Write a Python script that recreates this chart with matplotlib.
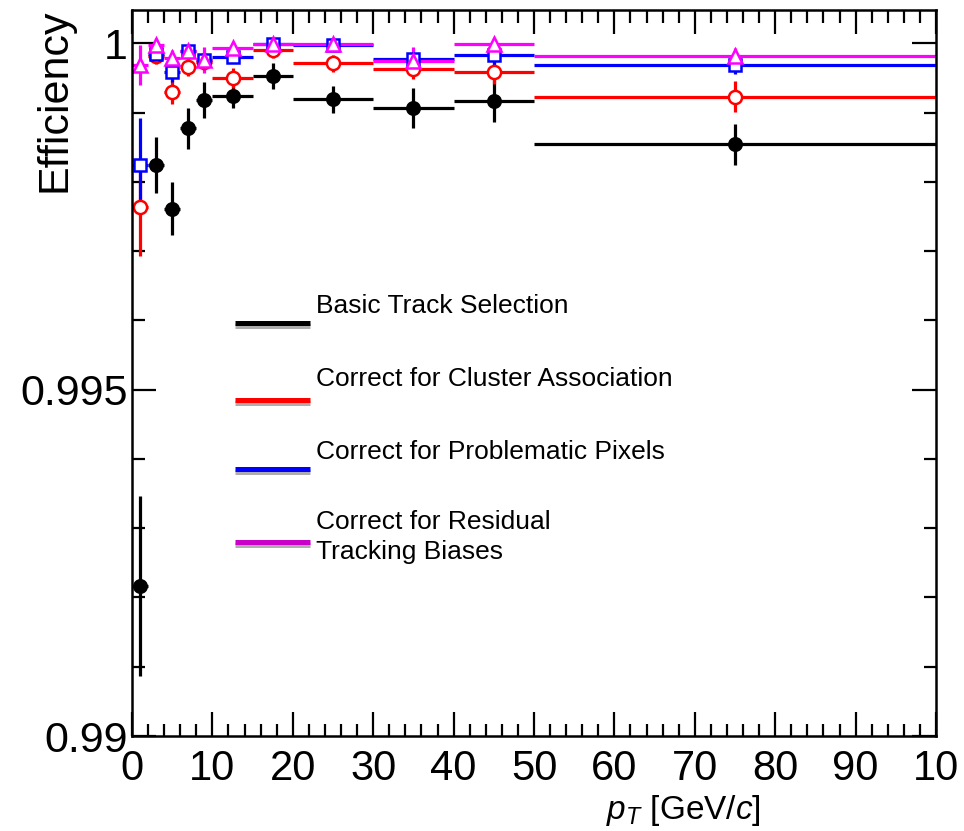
import matplotlib
matplotlib.use('Agg')
import matplotlib.pyplot as plt
import matplotlib.patheffects as pe
from matplotlib.ticker import MultipleLocator, FixedLocator

# ===== DATA

bin_lo = [0, 2, 4, 6, 8, 10, 15, 20, 30, 40, 50]
bin_hi = [2, 4, 6, 8, 10, 15, 20, 30, 40, 50, 100]

eff_basic = [0.99216, 0.99824, 0.99761, 0.99877, 0.99918, 0.99924,
             0.99953, 0.99919, 0.99906, 0.99917, 0.99854]
err_basic = [0.0013, 0.0004, 0.00038, 0.0003, 0.00026, 0.00017,
             0.00019, 0.0002, 0.00029, 0.0003, 0.0003]

eff_cluster = [0.99763, 0.99981, 0.99930, 0.99966, 0.99973, 0.99950,
               0.99990, 0.99971, 0.99963, 0.99958, 0.99923]
err_cluster = [0.0007, 0.00011, 0.00018, 0.00013, 0.00012, 0.00014,
               0.00011, 0.00012, 0.00014, 0.00017, 0.00022]

eff_pixels = [0.99824, 0.99984, 0.99958, 0.99989, 0.99976, 0.99980,
              0.99999, 0.99998, 0.99977, 0.99983, 0.99969]
err_pixels = [0.00068, 0.0001, 0.00014, 0.00009, 0.00011, 0.00008,
              0.00007, 0.00007, 0.00011, 0.00014, 0.00013]

eff_resid = [0.99969, 0.99998, 0.99978, 0.99989, 0.99976, 0.99993,
             0.99999, 0.99999, 0.99975, 0.99999, 0.99981]
err_resid = [0.00029, 0.0001, 0.00012, 0.00008, 0.00019, 0.00007,
             0.00006, 0.00006, 0.00019, 0.00008, 0.00012]

labels = ['Basic Track Selection',
          'Correct for Cluster Association',
          'Correct for Problematic Pixels',
          'Correct for Residual\nTracking Biases']

xtick_vals = [0, 10, 20, 30, 40, 50, 60, 70, 80, 90, 100]
xtick_labels = ['0', '10', '20', '30', '40', '50', '60', '70', '80', '90', '10']
ytick_vals = [0.99, 0.995, 1.0]
ytick_labels = ['0.99', '0.995', '1']

# ===== DISPLAY

plt.rcParams['font.family'] = ['Liberation Sans', 'DejaVu Sans']
plt.rcParams['mathtext.fontset'] = 'custom'
plt.rcParams['mathtext.rm'] = 'Liberation Sans'
plt.rcParams['mathtext.it'] = 'Liberation Sans:italic'

W, H = 964, 831
fig = plt.figure(figsize=(W / 100, H / 100), dpi=100)
# axes box in pixels: x 132..936, y 10..736
ax = fig.add_axes([132 / W, (H - 736) / H, 804 / W, 726 / H])

pt = [(lo + hi) / 2 for lo, hi in zip(bin_lo, bin_hi)]
pt_err = [(hi - lo) / 2 for lo, hi in zip(bin_lo, bin_hi)]

series = [
    (eff_basic, err_basic, 'black', 'o', 'black', 9),
    (eff_cluster, err_cluster, 'red', 'o', 'white', 9.5),
    (eff_pixels, err_pixels, 'blue', 's', 'white', 9),
    (eff_resid, err_resid, 'magenta', '^', 'white', 10),
]
for eff, err, col, mk, fc, ms in series:
    ax.errorbar(pt, eff, xerr=pt_err, yerr=err, fmt=mk, color=col,
                mfc=fc, mec=col, mew=1.8, ms=ms, elinewidth=2.3,
                capsize=0)

ax.set_xlim(0, 100)
ax.set_ylim(0.99, 1.00048)

ax.xaxis.set_major_locator(FixedLocator(xtick_vals))
ax.set_xticklabels(xtick_labels, fontsize=30)
ax.xaxis.set_minor_locator(MultipleLocator(2))
ax.yaxis.set_major_locator(FixedLocator(ytick_vals))
ax.set_yticklabels(ytick_labels, fontsize=31)
ax.yaxis.set_minor_locator(MultipleLocator(0.001))

ax.tick_params(which='both', direction='in', top=True, right=True, width=1.6)
ax.tick_params(which='major', length=17)
ax.tick_params(which='minor', length=9)
ax.tick_params(axis='x', which='major', pad=9)
ax.tick_params(axis='y', which='major', pad=3)
for sp in ax.spines.values():
    sp.set_linewidth(1.8)

fig.text(54 / W, 1 - 9 / H, 'Efficiency', rotation=90, ha='center', va='top',
         fontsize=31)
fig.text(683 / W, 1 - 811 / H, r'$p_{T}$ [GeV/$c$]', ha='center', va='center',
         fontsize=24)

# legend, drawn by hand like the ROOT TLegend
leg_cols = ['black', 'red', 'blue', '#c800c8']
leg_line_y = [323, 400, 469, 542]
leg_text_y = [306, 379, 452, 537]
for lab, col, ly, ty in zip(labels, leg_cols, leg_line_y, leg_text_y):
    ax.plot([(235 - 132) / 804, (310 - 132) / 804],
            [(736 - ly) / 726] * 2, color=col, lw=3.6, solid_capstyle='butt',
            transform=ax.transAxes,
            path_effects=[pe.SimpleLineShadow(offset=(0, -2.5), shadow_color='#999999',
                                              alpha=0.8), pe.Normal()])
    ax.text((316 - 132) / 804, (736 - ty) / 726, lab, transform=ax.transAxes,
            ha='left', va='center', fontsize=19, linespacing=1.3)

plt.savefig('out.png', dpi=100)
